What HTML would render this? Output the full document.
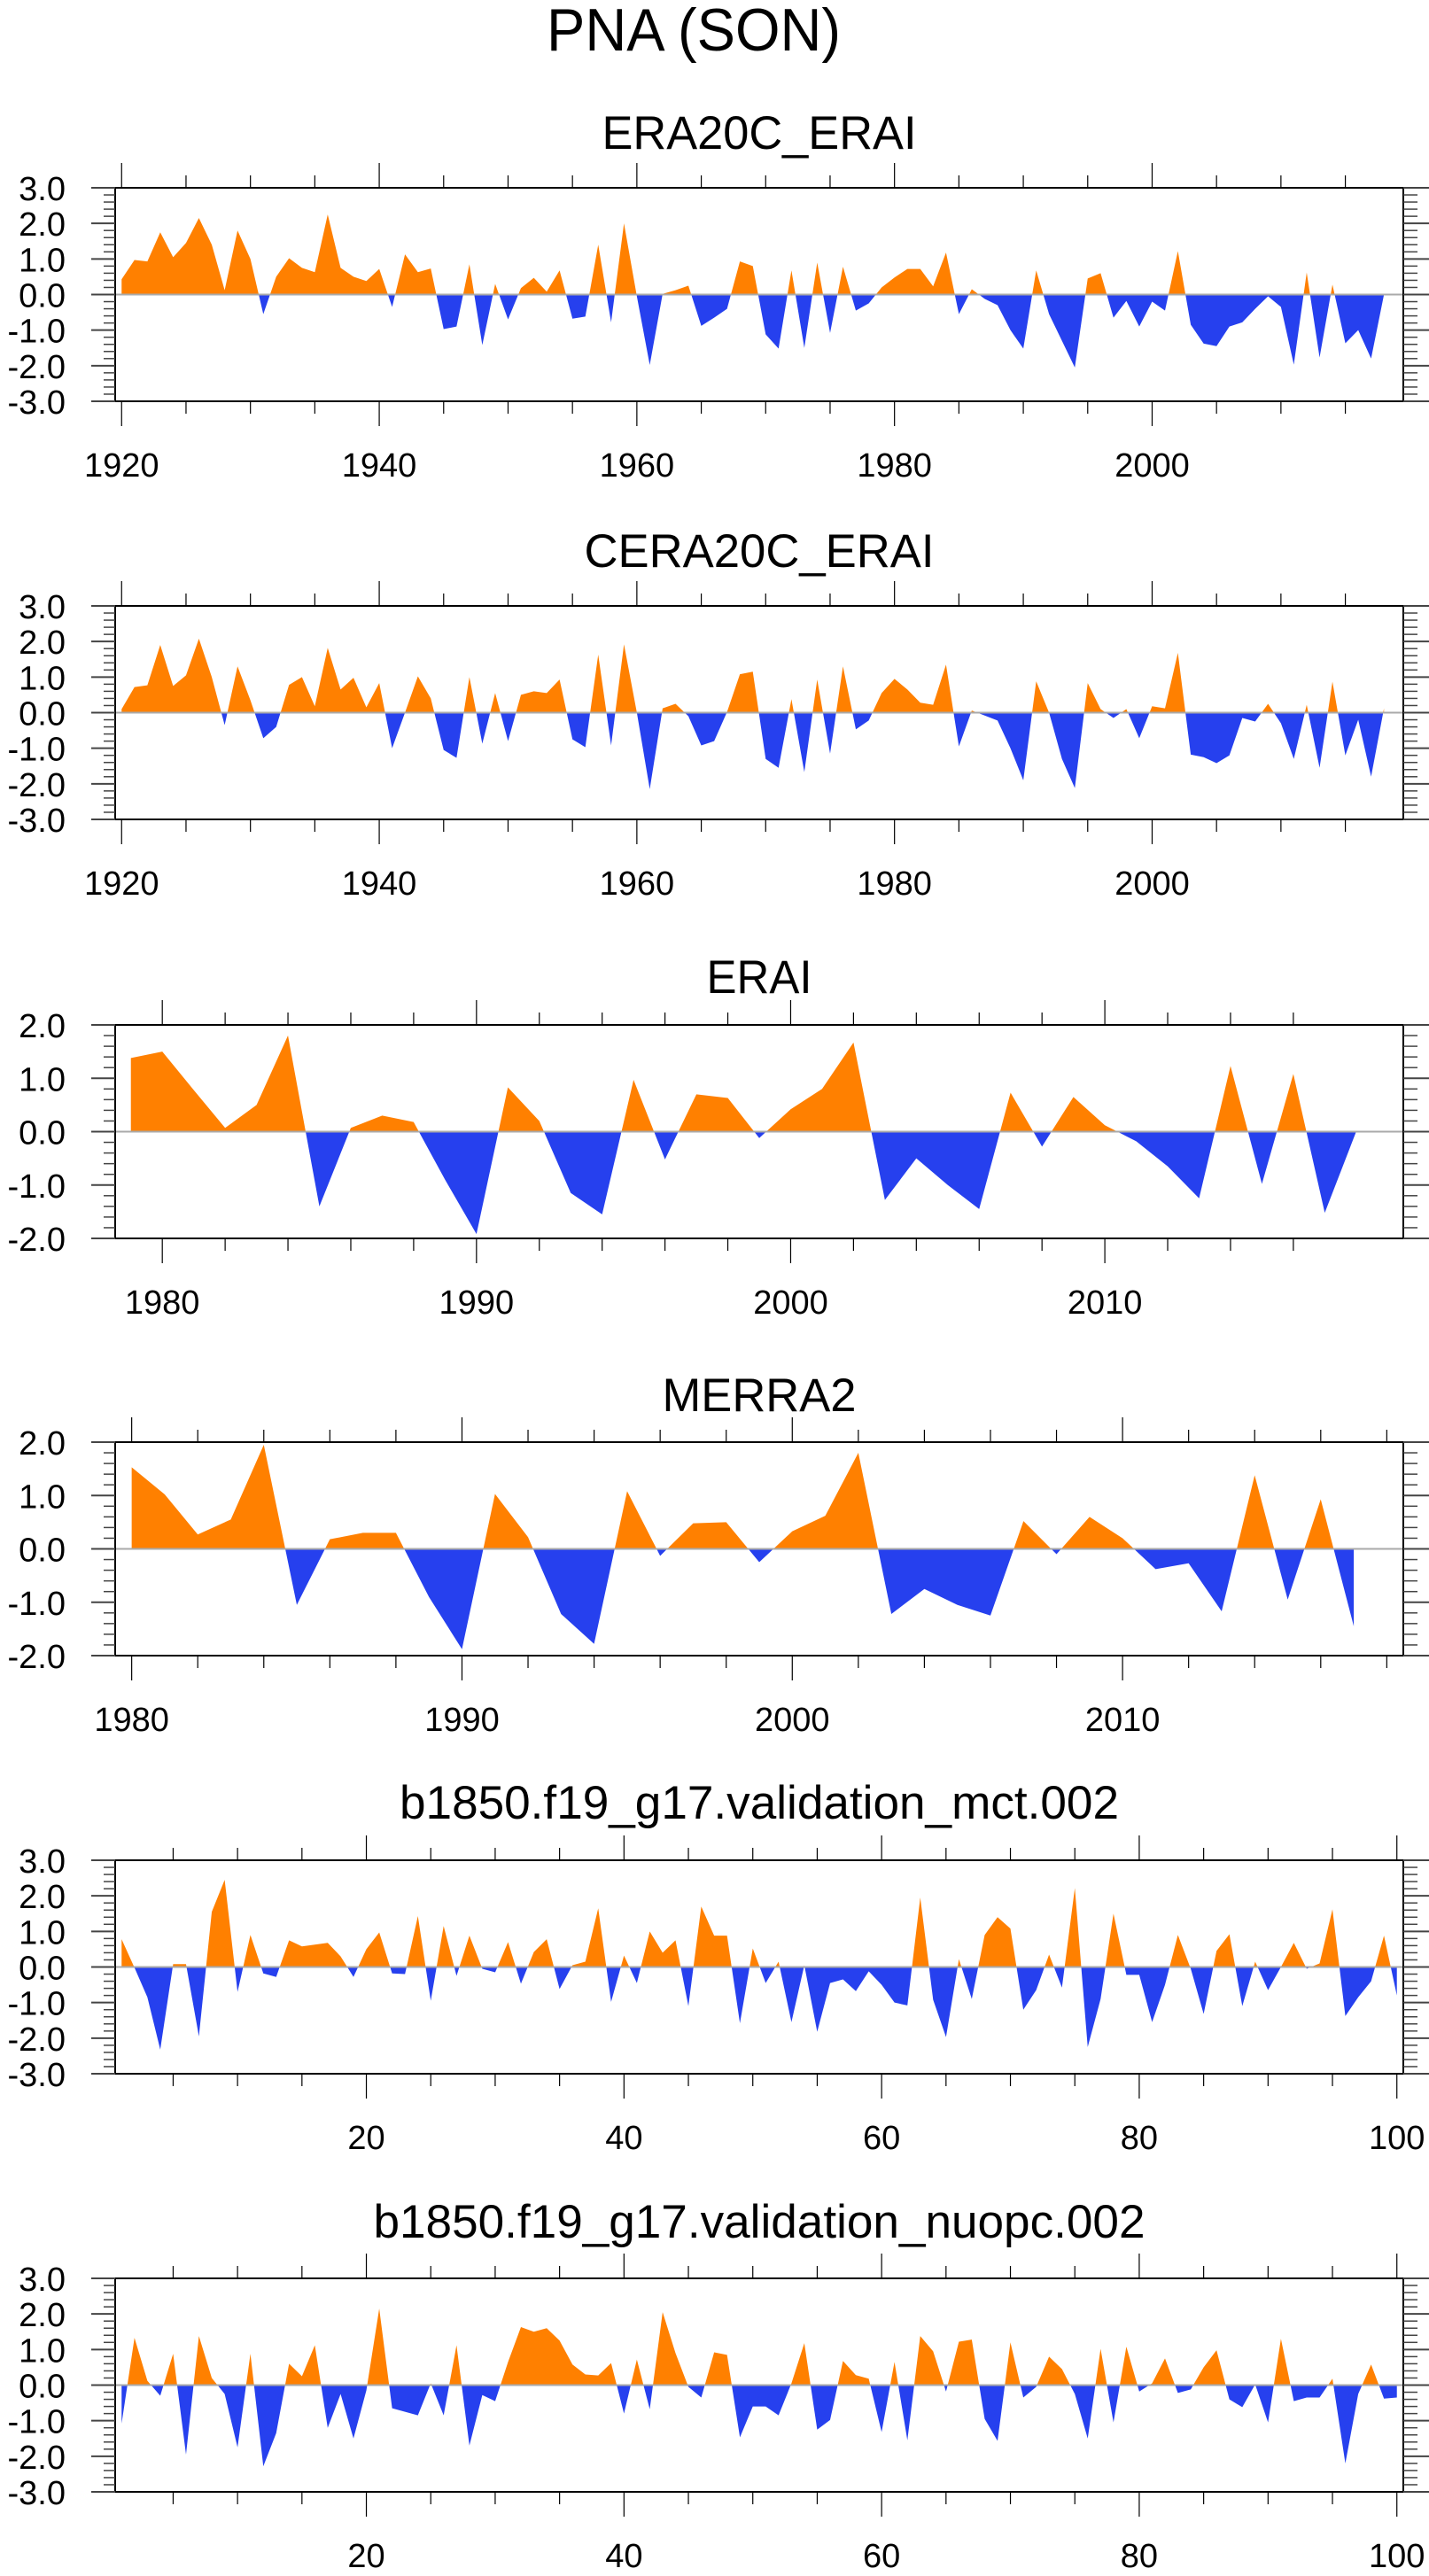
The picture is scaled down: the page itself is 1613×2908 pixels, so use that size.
<!DOCTYPE html>
<html><head><meta charset="utf-8"><style>
html,body{margin:0;padding:0;background:#fff;}
svg{display:block;font-family:"Liberation Sans",sans-serif;}
</style></head><body>
<svg id="chart" width="1613" height="2908" viewBox="0 0 1613 2908" xmlns="http://www.w3.org/2000/svg">
<text x="783" y="57" font-size="68" text-anchor="middle" textLength="332" lengthAdjust="spacingAndGlyphs">PNA (SON)</text>
</svg>
<script>
// ---- data ----
const era20cStart = 1920;
const era20cVals = [0.43,0.97,0.93,1.75,1.05,1.45,2.15,1.4,0.12,1.8,
1.0,-0.55,0.5,1.02,0.75,0.63,2.25,0.75,0.5,0.38,
0.72,-0.35,1.13,0.63,0.73,-0.97,-0.9,0.85,-1.42,0.3,
-0.7,0.18,0.47,0.08,0.68,-0.68,-0.62,1.4,-0.78,2.0,
-0.05,-1.98,0.02,0.12,0.25,-0.88,-0.65,-0.4,0.93,0.8,
-1.12,-1.52,0.68,-1.5,0.9,-1.08,0.78,-0.45,-0.25,0.2,
0.48,0.72,0.72,0.23,1.18,-0.55,0.15,-0.12,-0.3,-1.0,
-1.52,0.68,-0.55,-1.3,-2.05,0.45,0.6,-0.65,-0.18,-0.9,
-0.2,-0.45,1.22,-0.85,-1.38,-1.45,-0.9,-0.78,-0.4,-0.05,
-0.35,-1.97,0.62,-1.77,0.28,-1.37,-1.0,-1.8,0.0];
const cera20cStart = 1920;
const cera20cVals = [0.1,0.72,0.77,1.9,0.75,1.05,2.08,1.0,-0.35,1.3,
0.35,-0.72,-0.4,0.78,1.0,0.18,1.82,0.65,0.98,0.15,
0.83,-1.0,0.0,1.02,0.4,-1.05,-1.27,1.0,-0.87,0.55,
-0.8,0.5,0.6,0.55,0.93,-0.75,-0.97,1.63,-0.92,1.92,
0.0,-2.15,0.12,0.25,-0.1,-0.92,-0.8,0.02,1.08,1.15,
-1.3,-1.55,0.38,-1.67,0.93,-1.15,1.3,-0.47,-0.22,0.55,
0.95,0.65,0.28,0.22,1.35,-0.95,0.06,-0.08,-0.22,-1.0,
-1.9,0.88,0.0,-1.3,-2.12,0.83,0.1,-0.15,0.1,-0.72,
0.18,0.12,1.68,-1.18,-1.25,-1.42,-1.2,-0.15,-0.25,0.25,
-0.3,-1.3,0.22,-1.55,0.87,-1.2,-0.2,-1.8,0.12];
const eraiStart = 1979;
const eraiVals = [1.38,1.5,0.78,0.07,0.5,1.8,-1.4,0.07,0.3,0.18,
-0.9,-1.92,0.83,0.2,-1.15,-1.55,0.97,-0.52,0.7,0.63,
-0.12,0.42,0.8,1.67,-1.28,-0.5,-1.0,-1.45,0.73,-0.28,
0.65,0.12,-0.18,-0.65,-1.25,1.23,-0.98,1.08,-1.52,0.0];
const merra2Start = 1980;
const merra2Vals = [1.53,1.02,0.27,0.55,1.95,-1.05,0.18,0.3,0.3,-0.9,
-1.88,1.03,0.22,-1.22,-1.78,1.08,-0.13,0.48,0.5,-0.25,
0.33,0.62,1.8,-1.22,-0.75,-1.05,-1.25,0.52,-0.1,0.6,
0.2,-0.38,-0.27,-1.17,1.38,-0.95,0.93,-1.45];
const mctStart = 1;
const mctVals = [0.78,-0.02,-0.85,-2.32,0.08,0.08,-1.95,1.55,2.45,-0.7,
0.9,-0.18,-0.28,0.75,0.58,0.63,0.68,0.3,-0.28,0.5,
0.97,-0.18,-0.2,1.43,-0.95,1.15,-0.25,0.88,-0.05,-0.15,
0.7,-0.47,0.42,0.78,-0.62,0.05,0.15,1.65,-0.98,0.32,
-0.45,1.0,0.4,0.75,-1.1,1.7,0.88,0.88,-1.58,0.52,
-0.45,0.15,-1.55,0.05,-1.82,-0.45,-0.35,-0.68,-0.12,-0.5,
-1.0,-1.08,1.95,-0.92,-1.97,0.22,-0.9,0.9,1.4,1.08,
-1.2,-0.65,0.35,-0.58,2.22,-2.25,-0.9,1.5,-0.22,-0.22,
-1.55,-0.5,0.9,-0.05,-1.32,0.45,0.92,-1.1,0.15,-0.65,
0.0,0.68,-0.05,0.1,1.62,-1.38,-0.85,-0.4,0.88,-0.8];
const nuopcStart = 1;
const nuopcVals = [-1.08,1.33,0.12,-0.3,0.88,-1.95,1.38,0.2,-0.25,-1.75,
0.88,-2.28,-1.35,0.6,0.25,1.12,-1.2,-0.25,-1.5,-0.15,
2.15,-0.65,-0.75,-0.85,0.05,-0.85,1.12,-1.7,-0.28,-0.45,
0.65,1.63,1.5,1.6,1.25,0.58,0.3,0.27,0.62,-0.8,
0.72,-0.68,2.05,0.9,-0.05,-0.35,0.92,0.85,-1.47,-0.6,
-0.6,-0.85,0.05,1.18,-1.25,-0.98,0.68,0.28,0.18,-1.32,
0.65,-1.55,1.38,0.95,-0.18,1.22,1.28,-0.95,-1.57,1.2,
-0.35,-0.05,0.8,0.45,-0.25,-1.5,1.02,-1.05,1.08,-0.18,
0.05,0.75,-0.22,-0.12,0.5,0.98,-0.4,-0.62,0.02,-1.05,
1.3,-0.45,-0.35,-0.35,0.18,-2.2,-0.25,0.58,-0.38,-0.35];
const yTicks3 = [-3,-2,-1,0,1,2,3];
const yTicks2 = [-2,-1,0,1,2];

// ---- layout ----
const NS = "http://www.w3.org/2000/svg";
const svg = document.getElementById('chart');
const L = 130, R = 1584, H = 241;
const panels = [
 {name:'era20c-erai', title:'ERA20C_ERAI', tw:355, top:212, tb:44, vals:era20cVals, start:era20cStart, x0:1919.5, x1:2019.5, y0:-3, y1:3, yt:yTicks3, major:20, minor:5, tmin:1920, tmax:2015, labels:[1920,1940,1960,1980,2000]},
 {name:'cera20c-erai', title:'CERA20C_ERAI', tw:395, top:684, tb:44, vals:cera20cVals, start:cera20cStart, x0:1919.5, x1:2019.5, y0:-3, y1:3, yt:yTicks3, major:20, minor:5, tmin:1920, tmax:2015, labels:[1920,1940,1960,1980,2000]},
 {name:'erai', title:'ERAI', tw:119, top:1157, tb:36, vals:eraiVals, start:eraiStart, x0:1978.5, x1:2019.5, y0:-2, y1:2, yt:yTicks2, major:10, minor:2, tmin:1980, tmax:2016, labels:[1980,1990,2000,2010]},
 {name:'merra2', title:'MERRA2', tw:219, top:1628, tb:35, vals:merra2Vals, start:merra2Start, x0:1979.5, x1:2018.5, y0:-2, y1:2, yt:yTicks2, major:10, minor:2, tmin:1980, tmax:2018, labels:[1980,1990,2000,2010]},
 {name:'mct', title:'b1850.f19_g17.validation_mct.002', tw:812, top:2100, tb:47, vals:mctVals, start:mctStart, x0:0.5, x1:100.5, y0:-3, y1:3, yt:yTicks3, major:20, minor:5, tmin:5, tmax:100, labels:[20,40,60,80,100]},
 {name:'nuopc', title:'b1850.f19_g17.validation_nuopc.002', tw:871, top:2572, tb:46, vals:nuopcVals, start:nuopcStart, x0:0.5, x1:100.5, y0:-3, y1:3, yt:yTicks3, major:20, minor:5, tmin:5, tmax:100, labels:[20,40,60,80,100]}
];
function mk(tag, attrs, parent){const e=document.createElementNS(NS,tag);for(const k in attrs)e.setAttribute(k,attrs[k]);(parent||svg).appendChild(e);return e;}

panels.forEach((p,pi)=>{
  const g = mk('g',{});
  
  
  const T=p.top, B=p.top+H;
  const xs = v => L + (v-p.x0)/(p.x1-p.x0)*(R-L);
  const ys = v => B - (v-p.y0)/(p.y1-p.y0)*H;
  const zy = ys(0);
  // title
  const t = mk('text',{x:857,y:T-p.tb,'font-size':53,'text-anchor':'middle',textLength:p.tw,lengthAdjust:'spacingAndGlyphs'},g);
  
  
  t.textContent = p.title;
  // clip paths
  const defs = mk('defs',{},g);
  const cA = mk('clipPath',{id:'ca'+pi},defs); mk('rect',{x:L,y:T,width:R-L,height:zy-T},cA);
  const cB = mk('clipPath',{id:'cb'+pi},defs); mk('rect',{x:L,y:zy,width:R-L,height:B-zy},cB);
  let pts = [];
  p.vals.forEach((v,i)=>{pts.push(xs(p.start+i).toFixed(2)+','+ys(v).toFixed(2));});
  const xa = xs(p.start), xb = xs(p.start+p.vals.length-1);
  const poly = xa.toFixed(2)+','+zy+' '+pts.join(' ')+' '+xb.toFixed(2)+','+zy;
  const pa = mk('polygon',{points:poly,fill:'#ff8000','clip-path':'url(#ca'+pi+')'},g);
  
  
  const pb = mk('polygon',{points:poly,fill:'#2640ee','clip-path':'url(#cb'+pi+')'},g);
  
  
  // zero line
  const zl = mk('line',{x1:L,x2:R,y1:zy,y2:zy,stroke:'#aaaaaa','stroke-width':2},g);
  
  
  // frame
  const fr = mk('rect',{x:L,y:T,width:R-L,height:H,fill:'none',stroke:'#000','stroke-width':2},g);
  
  
  // x ticks
  for(let v=p.tmin; v<=p.tmax+1e-9; v+=p.minor){
    const x = xs(v); const maj = Math.abs(v % p.major) < 1e-9;
    const len = maj?28:14;
    mk('line',{x1:x,x2:x,y1:T,y2:T-len,stroke:'#000','stroke-width':1.2},g);
    mk('line',{x1:x,x2:x,y1:B,y2:B+len,stroke:'#000','stroke-width':1.2},g);
  }
  // y ticks
  for(let k=Math.round(p.y0*5); k<=Math.round(p.y1*5); k++){
    const y = ys(k/5); const maj = k%5===0;
    mk('line',{x1:L,x2:maj?103:117,y1:y,y2:y,stroke:'#444','stroke-width':maj?2:1.5},g);
    mk('line',{x1:R,x2:maj?1613:1600,y1:y,y2:y,stroke:'#444','stroke-width':maj?2:1.5},g);
  }
  // y labels
  p.yt.forEach(v=>{
    const tx = mk('text',{x:74,y:ys(v)+14,'font-size':38,'text-anchor':'end'},g);
    
    
    tx.textContent = v.toFixed(1);
  });
  // x labels
  p.labels.forEach(v=>{
    const tx = mk('text',{x:xs(v),y:B+85,'font-size':38,'text-anchor':'middle'},g);
    
    
    tx.textContent = String(v);
  });
});
</script>
</body></html>
